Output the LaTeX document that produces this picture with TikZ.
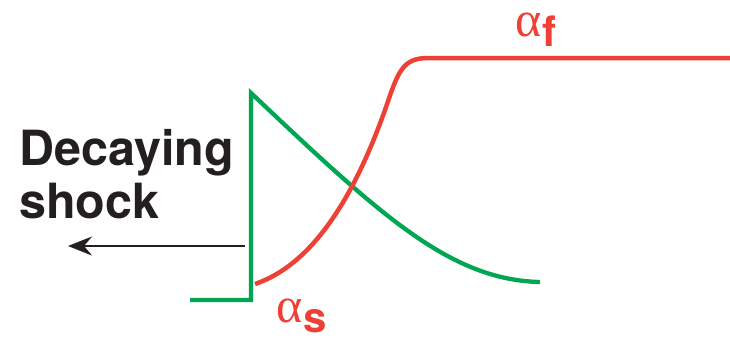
\documentclass[tikz,border=0pt]{standalone}
\usepackage{fontspec}
\setmainfont{TeX Gyre Heros}
\newfontfamily\greekfont{Liberation Serif}
\usetikzlibrary{arrows.meta}
\definecolor{shockred}{HTML}{EE4035}
\definecolor{shockgreen}{HTML}{00A651}
\definecolor{ink}{HTML}{231F20}
\newcommand{\alphasub}[1]{{\fontsize{50}{50}\selectfont\greekfont α}\kern1pt\raisebox{-10pt}{\fontsize{42}{42}\selectfont\bfseries #1}}
\tikzset{
  greencurve/.style={draw=shockgreen,line width=4.3pt,line join=miter},
  redcurve/.style={draw=shockred,line width=4.5pt},
  label/.style={text=ink,font=\fontsize{48.5}{53}\selectfont\bfseries,align=left,inner sep=0pt},
  alphalab/.style={text=shockred,inner sep=0pt},
}
\begin{document}
\begin{tikzpicture}[x=1pt,y=-1pt]
\useasboundingbox (0,0) rectangle (730,338);
% green shock profile
\coordinate (g0) at (190,300);
\coordinate (g1) at (251,300);
\coordinate (g2) at (251,93);
\coordinate (g3) at (540,282);
\draw[greencurve] (g0) -- (g1) -- (g2) .. controls (380,215) and (450,280) .. (g3);
% red profile
\coordinate (r0) at (255,284);
\coordinate (r1) at (385,110);
\coordinate (r2) at (428,58);
\coordinate (r3) at (730,58);
\draw[redcurve] (r0) .. controls (320,262) and (360,180) .. (r1)
  .. controls (398,72) and (402,58) .. (r2) -- (r3);
% labels
\node[label,anchor=base west] (dec) at (19,218) {Decaying\\shock};
\node[alphalab,anchor=base west] (af) at (515,36) {\alphasub{f}};
\node[alphalab,anchor=base west] (as) at (276,322) {\alphasub{s}};
% arrow
\coordinate (a0) at (245,246);
\coordinate (a1) at (68,246);
\draw[ink,line width=2pt,-{Stealth[length=24pt,width=19pt,inset=8pt]}] (a0) -- (a1);
\end{tikzpicture}
\end{document}
